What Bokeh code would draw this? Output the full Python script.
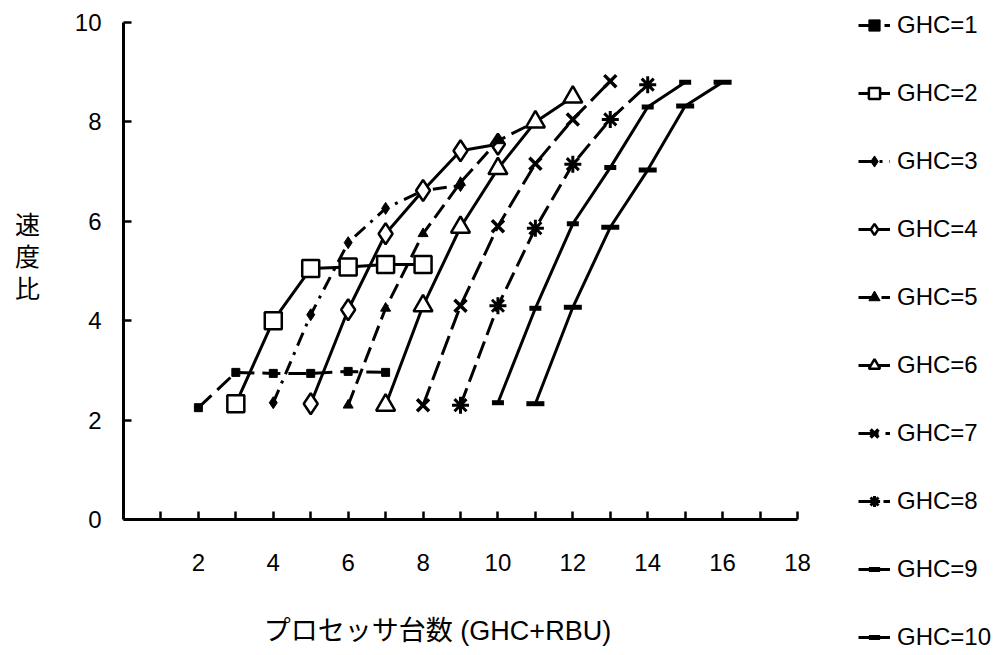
from bokeh.plotting import figure
from bokeh.models import Range1d, FixedTicker, Legend, LegendItem, Label
from bokeh.embed import file_html
from bokeh.resources import INLINE

# ---------------- data ----------------
series_names = ["GHC=1", "GHC=2", "GHC=3", "GHC=4", "GHC=5",
                "GHC=6", "GHC=7", "GHC=8", "GHC=9", "GHC=10"]

ghc1_x = [2, 3, 4, 5, 6, 7]
ghc1_y = [2.25, 2.96, 2.94, 2.94, 2.98, 2.96]
ghc2_x = [3, 4, 5, 6, 7, 8]
ghc2_y = [2.33, 4.0, 5.05, 5.08, 5.13, 5.13]
ghc3_x = [4, 5, 6, 7, 8, 9]
ghc3_y = [2.35, 4.12, 5.57, 6.26, 6.62, 6.72]
ghc4_x = [5, 6, 7, 8, 9, 10]
ghc4_y = [2.33, 4.22, 5.75, 6.62, 7.42, 7.55]
ghc5_x = [6, 7, 8, 9, 10, 11]
ghc5_y = [2.3, 4.25, 5.75, 6.78, 7.62, 8.0]
ghc6_x = [7, 8, 9, 10, 11, 12]
ghc6_y = [2.3, 4.3, 5.88, 7.06, 8.0, 8.5]
ghc7_x = [8, 9, 10, 11, 12, 13]
ghc7_y = [2.3, 4.3, 5.9, 7.16, 8.05, 8.82]
ghc8_x = [9, 10, 11, 12, 13, 14]
ghc8_y = [2.3, 4.3, 5.86, 7.15, 8.05, 8.75]
ghc9_x = [10, 11, 12, 13, 14, 15]
ghc9_y = [2.35, 4.25, 5.95, 7.08, 8.3, 8.8]
ghc10_x = [11, 12, 13, 14, 15, 16]
ghc10_y = [2.33, 4.27, 5.88, 7.03, 8.32, 8.8]

x_tick_values = [2, 4, 6, 8, 10, 12, 14, 16, 18]
x_minor_ticks = [1, 3, 5, 7, 9, 11, 13, 15, 17]
y_tick_values = [0, 2, 4, 6, 8, 10]

x_title = "プロセッサ台数 (GHC+RBU)"
y_title_chars = ["速", "度", "比"]

# ---------------- styles ----------------
styles = [
    dict(marker="square", size=8, fill="black", lw=1, dash="18 8"),
    dict(marker="square", size=17, fill="white", lw=2.5, dash="solid"),
    dict(marker="diamond", size=12, fill="black", lw=1, dash="14 7 3 7"),
    dict(marker="diamond", size=21, fill="white", lw=2.5, dash="solid"),
    dict(marker="triangle", size=10, fill="black", lw=1, dash="16 7"),
    dict(marker="triangle", size=19, fill="white", lw=2.5, dash="solid"),
    dict(marker="x", size=17, fill="black", lw=3.5, dash="20 7"),
    dict(marker="asterisk", size=17, fill="black", lw=3, dash="18 7"),
    dict(marker="dash", size=12, fill="black", lw=5, dash="solid"),
    dict(marker="dash", size=18, fill="black", lw=5, dash="solid"),
]

xs = [ghc1_x, ghc2_x, ghc3_x, ghc4_x, ghc5_x, ghc6_x, ghc7_x, ghc8_x, ghc9_x, ghc10_x]
ys = [ghc1_y, ghc2_y, ghc3_y, ghc4_y, ghc5_y, ghc6_y, ghc7_y, ghc8_y, ghc9_y, ghc10_y]

FONT = "Liberation Sans, Noto Sans CJK JP"

W, H = 1003, 655
X0_PX, UX = 123, 37.444      # screen x of x=0, px per x unit
Y0_PX, UY = 519, 49.7        # screen y of y=0, px per y unit

p = figure(width=W, height=H, output_backend="svg", toolbar_location=None,
           x_range=Range1d(-X0_PX / UX, (W - X0_PX) / UX),
           y_range=Range1d(-(H - Y0_PX) / UY, Y0_PX / UY),
           min_border=0, min_border_left=0, min_border_right=0,
           min_border_top=0, min_border_bottom=0)
p.grid.visible = False
p.outline_line_color = None
p.background_fill_color = "white"

items = []
for name, x, y, st in zip(series_names, xs, ys, styles):
    lr = p.line(x, y, line_color="black", line_width=3, line_dash=st["dash"])
    mr = p.scatter(x, y, marker=st["marker"], size=st["size"],
                   fill_color=st["fill"], line_color="black", line_width=st["lw"])
    items.append(LegendItem(label=name, renderers=[lr, mr]))

# x axis
xa = p.xaxis[0]
xa.fixed_location = 0
xa.bounds = (0, 18)
xa.ticker = FixedTicker(ticks=x_tick_values, minor_ticks=x_minor_ticks)
xa.major_tick_in = 8
xa.major_tick_out = 0
xa.minor_tick_in = 8
xa.minor_tick_out = 0
xa.axis_line_width = 3
xa.major_tick_line_width = 2.5
xa.minor_tick_line_width = 2.5
xa.major_label_text_font_size = "24px"
xa.major_label_text_font = FONT
xa.major_label_text_color = "black"
xa.major_label_standoff = 34

# y axis
ya = p.yaxis[0]
ya.fixed_location = 0
ya.bounds = (0, 10)
ya.ticker = FixedTicker(ticks=y_tick_values, minor_ticks=[])
ya.major_tick_in = 8
ya.major_tick_out = 0
ya.minor_tick_in = 0
ya.minor_tick_out = 0
ya.axis_line_width = 3
ya.major_tick_line_width = 2.5
ya.major_label_text_font_size = "24px"
ya.major_label_text_font = FONT
ya.major_label_text_color = "black"
ya.major_label_standoff = 22

# axis titles
p.add_layout(Label(x=(437 - X0_PX) / UX, y=-(630 - Y0_PX) / UY, text=x_title,
                   text_align="center", text_baseline="middle",
                   text_font=FONT, text_font_size="27px", text_color="black"))
for ch, py in zip(y_title_chars, [222, 254, 286]):
    p.add_layout(Label(x=(27 - X0_PX) / UX, y=(Y0_PX - py) / UY, text=ch,
                       text_align="center", text_baseline="middle",
                       text_font="Noto Sans CJK JP", text_font_size="25px",
                       text_color="black"))

legend = Legend(items=items, location=(858, 4), orientation="vertical",
                label_text_font=FONT, label_text_font_size="24px",
                label_text_color="black",
                glyph_width=32, glyph_height=28, label_height=28,
                spacing=40, padding=0, margin=0, label_standoff=7,
                background_fill_alpha=0, border_line_alpha=0)
p.add_layout(legend)

open("out.html", "w").write(file_html(p, INLINE))
